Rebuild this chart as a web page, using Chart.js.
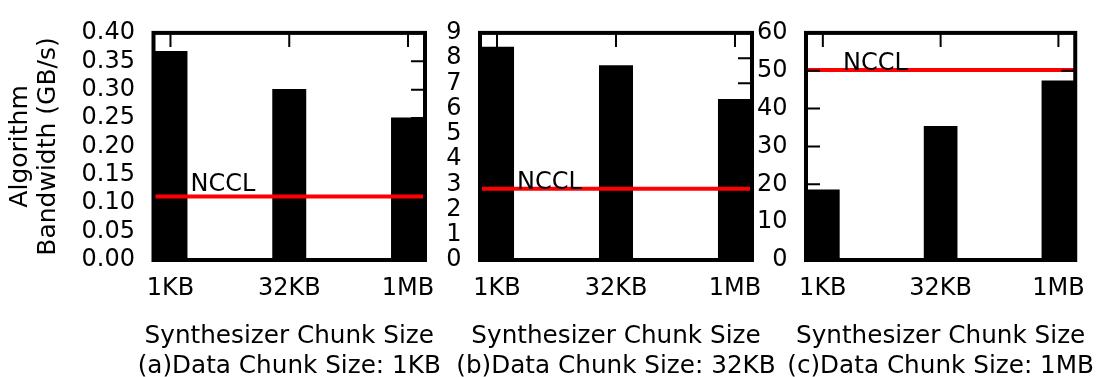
<!DOCTYPE html>
<html>
<head>
<meta charset="utf-8">
<script src="https://cdn.jsdelivr.net/npm/chart.js@4/dist/chart.umd.min.js"></script>
<style>
  html, body { margin: 0; padding: 0; background: #fff; }
  #wrap { position: relative; width: 1100px; height: 377px; overflow: hidden; background: #fff; }
  #wrap canvas { position: absolute; left: 0; top: 0; }
</style>
</head>
<body>
<div id="wrap">
  <canvas id="panelA" width="1100" height="377"></canvas>
  <canvas id="panelB" width="1100" height="377"></canvas>
  <canvas id="panelC" width="1100" height="377"></canvas>
</div>
<script>
// Synthesizer chunk sizes (x categories)
const chunkSizes = ['1KB', '32KB', '1MB'];

// Algorithm bandwidth (GB/s) per data chunk size
const bwData1KB  = [0.368, 0.301, 0.251];
const bwData32KB = [8.45, 7.72, 6.38];
const bwData1MB  = [18.6, 35.4, 47.45];

// NCCL reference bandwidth for each data chunk size
const ncclBw = [0.112, 2.82, 50.2];

// Y axis ranges and tick steps
const yMaxes    = [0.4, 9, 60];
const ySteps    = [0.05, 1, 10];
const yDecimals = [2, 0, 0];

// Texts
const panelCaptions = ['(a)Data Chunk Size: 1KB', '(b)Data Chunk Size: 32KB', '(c)Data Chunk Size: 1MB'];
const xTitle = 'Synthesizer Chunk Size';
const yTitle = ['Algorithm', 'Bandwidth (GB/s)'];
const ncclLabel = 'NCCL';

const FONT = '"DejaVu Sans", "Liberation Sans", sans-serif';
const W = 1100, H = 377;
const PLOT_TOP = 21, PLOT_BOTTOM = 260;
const HALF_BAR = 0.143;           // half bar width in category units
const X_MIN = -HALF_BAR, X_MAX = chunkSizes.length - 1 + HALF_BAR;

// Gnuplot-like frame: inward ticks on all four sides, NCCL label, thick border,
// and the two-line x caption (drawn unclipped so it can run wider than the plot)
const framePlugin = {
  id: 'frame',
  afterDatasetsDraw(chart, args, opts) {
    const { ctx, chartArea: a, scales: { x, y } } = chart;
    const tk = 14;
    ctx.save();
    ctx.strokeStyle = '#000';
    ctx.lineWidth = 2;
    ctx.beginPath();
    y.ticks.forEach(t => {
      const py = y.getPixelForValue(t.value);
      ctx.moveTo(a.left, py);  ctx.lineTo(a.left + tk, py);
      ctx.moveTo(a.right, py); ctx.lineTo(a.right - tk, py);
    });
    x.ticks.forEach(t => {
      const px = x.getPixelForValue(t.value);
      ctx.moveTo(px, a.top);    ctx.lineTo(px, a.top + tk);
      ctx.moveTo(px, a.bottom); ctx.lineTo(px, a.bottom - tk);
    });
    ctx.stroke();

    ctx.fillStyle = '#000';
    ctx.font = '24px ' + FONT;
    ctx.textAlign = 'left';
    ctx.textBaseline = 'alphabetic';
    ctx.fillText(opts.label, a.left + 37, y.getPixelForValue(opts.value) - opts.lift);

    ctx.lineWidth = 4;
    ctx.strokeRect(a.left, a.top, a.right - a.left, a.bottom - a.top);

    ctx.font = '24.7px ' + FONT;
    ctx.textAlign = 'center';
    const cx = (a.left + a.right) / 2;
    opts.caption.forEach((line, k) => {
      ctx.fillText(line, cx, a.bottom + 83 + k * 29.5);
    });
    ctx.restore();
  }
};

const panels = [
  { id: 'panelA', values: bwData1KB,  left: 153.5, right: 425,  yWidth: 153.5, showYTitle: true,  lift: 5 },
  { id: 'panelB', values: bwData32KB, left: 480,   right: 752,  yWidth: 60,    showYTitle: false, lift: 0 },
  { id: 'panelC', values: bwData1MB,  left: 806,   right: 1078, yWidth: 60,    showYTitle: false, lift: 0 }
];

panels.forEach((p, i) => {
  const tickFont = { family: FONT, size: 24, lineHeight: 1.2 };
  new Chart(document.getElementById(p.id), {
    type: 'bar',
    data: {
      datasets: [
        {
          type: 'line',
          data: [{ x: X_MIN, y: ncclBw[i] }, { x: X_MAX, y: ncclBw[i] }],
          borderColor: '#ff0000',
          borderWidth: 4,
          pointRadius: 0,
          order: 0
        },
        {
          type: 'bar',
          data: p.values.map((v, k) => ({ x: k, y: v })),
          backgroundColor: '#000',
          borderWidth: 0,
          categoryPercentage: 1,
          barPercentage: 2 * HALF_BAR,
          order: 1
        }
      ]
    },
    options: {
      responsive: false,
      animation: false,
      events: [],
      layout: { padding: { left: p.left - p.yWidth, right: W - p.right, top: PLOT_TOP, bottom: 0 } },
      plugins: {
        legend: { display: false },
        tooltip: { enabled: false },
        frame: { label: ncclLabel, value: ncclBw[i], lift: p.lift, caption: [xTitle, panelCaptions[i]] }
      },
      scales: {
        x: {
          type: 'linear',
          offset: false,
          min: X_MIN,
          max: X_MAX,
          afterBuildTicks: s => { s.ticks = chunkSizes.map((_, k) => ({ value: k })); },
          afterFit: s => { s.height = H - PLOT_BOTTOM; },
          grid: { display: false, drawTicks: false },
          border: { display: false },
          ticks: {
            autoSkip: false, maxRotation: 0, padding: 14, color: '#000', font: tickFont,
            callback: v => chunkSizes[v]
          },
          title: { display: false }
        },
        y: {
          min: 0,
          max: yMaxes[i],
          afterFit: s => { s.width = p.yWidth; },
          grid: { display: false, drawTicks: false },
          border: { display: false },
          ticks: {
            autoSkip: false, stepSize: ySteps[i], padding: 18.5, color: '#000', font: tickFont,
            callback: v => Number(v).toFixed(yDecimals[i])
          },
          title: {
            display: p.showYTitle,
            text: yTitle,
            color: '#000',
            font: { family: FONT, size: 25, lineHeight: 1.12 },
            padding: { top: 6, bottom: 0 }
          }
        }
      }
    },
    plugins: [framePlugin]
  });
});
</script>
</body>
</html>
